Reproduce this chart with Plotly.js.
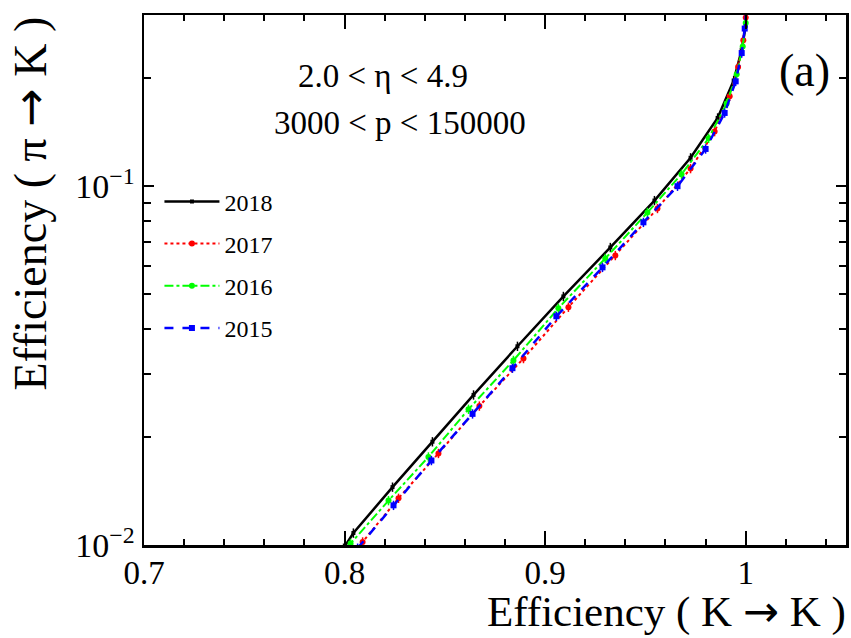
<!DOCTYPE html>
<html>
<head>
<meta charset="utf-8">
<script src="https://cdn.plot.ly/plotly-3.0.1.min.js"></script>
<style>html,body{margin:0;padding:0;background:#fff;}#plot{width:851px;height:638px;}</style>
</head>
<body>
<div id="plot"></div>
<script>
// Data (x = K->K efficiency, y = pi->K efficiency)
const x2018 = [0.7995, 0.8044, 0.8239, 0.8438, 0.8643, 0.8862, 0.9091, 0.9325, 0.9545, 0.9725, 0.9860, 0.9940, 0.9980, 1.0000, 1.0005];
const y2018 = [0.0098, 0.0108, 0.0145, 0.0194, 0.0262, 0.0358, 0.0493, 0.0675, 0.0912, 0.1200, 0.1550, 0.1970, 0.2400, 0.2800, 0.3200];

const x2017 = [0.8075, 0.8090, 0.8269, 0.8468, 0.8672, 0.8892, 0.9116, 0.9350, 0.9560, 0.9725, 0.9845, 0.9920, 0.9962, 0.9988, 1.0000, 1.0005];
const y2017 = [0.0097, 0.0102, 0.0135, 0.0180, 0.0244, 0.0331, 0.0460, 0.0641, 0.0867, 0.1120, 0.1420, 0.1780, 0.2150, 0.2550, 0.2950, 0.3200];

const x2016 = [0.8020, 0.8030, 0.8219, 0.8418, 0.8618, 0.8842, 0.9066, 0.9300, 0.9510, 0.9680, 0.9815, 0.9905, 0.9955, 0.9985, 1.0000, 1.0005];
const y2016 = [0.0098, 0.0101, 0.0133, 0.0176, 0.0239, 0.0327, 0.0457, 0.0629, 0.0845, 0.1080, 0.1360, 0.1700, 0.2050, 0.2450, 0.2850, 0.3200];

const x2015 = [0.8065, 0.8244, 0.8433, 0.8638, 0.8837, 0.9056, 0.9286, 0.9490, 0.9660, 0.9800, 0.9895, 0.9950, 0.9980, 0.9995, 1.0005];
const y2015 = [0.0098, 0.0129, 0.0172, 0.0232, 0.0311, 0.0434, 0.0594, 0.0793, 0.1000, 0.1270, 0.1600, 0.1960, 0.2350, 0.2750, 0.3200];

const legendNames = ["2018", "2017", "2016", "2015"];
const xTickVals = [0.7, 0.8, 0.9, 1.0];
const xTickText = ["0.7", "0.8", "0.9", "1"];
const yTickVals = [0.01, 0.1];
const yTickText = ["10<sup>\u22122</sup>", "10<sup>\u22121</sup>"];
const yMinorVals = [0.02, 0.03, 0.04, 0.05, 0.06, 0.07, 0.08, 0.09, 0.2, 0.3];

const FONT = "Liberation Serif, Times New Roman, serif";
const ARROW = "<span style=\"font-family:'DejaVu Sans'\">\u2192</span>";

function errs(y){ return y.map(v => v*0.03); }

function series(x, y, name, color, dash, width, symbol, msize, group){
  return {
    x: x, y: y, name: name, type: "scatter", mode: "lines+markers",
    line: {color: color, dash: dash, width: width},
    marker: {color: color, symbol: symbol, size: msize},
    error_y: {type: "data", array: errs(y), visible: true, color: color, thickness: 1.5, width: 0},
    legendgroup: group, cliponaxis: true
  };
}

const traces = [
  series(x2018, y2018, legendNames[0], "#000000", "solid", 2.5, "square", 4, "a"),
  series(x2017, y2017, legendNames[1], "#ff0000", "dot", 2, "circle", 6, "b"),
  series(x2016, y2016, legendNames[2], "#00ff00", "dashdot", 2, "circle", 6, "c"),
  series(x2015, y2015, legendNames[3], "#0000ff", "dash", 2.5, "square", 6, "d")
];

const layout = {
  width: 851, height: 638,
  margin: {l: 144, r: 5, t: 15, b: 93},
  paper_bgcolor: "#ffffff", plot_bgcolor: "#ffffff",
  font: {family: FONT, color: "#000000"},
  showlegend: true,
  legend: {
    x: 0.022, y: 0.69, xanchor: "left", yanchor: "top",
    font: {family: FONT, size: 24, color: "#000"},
    bgcolor: "rgba(0,0,0,0)", traceorder: "grouped", tracegroupgap: 8,
    itemwidth: 55
  },
  xaxis: {
    range: [0.7, 1.05], showgrid: false, zeroline: false,
    showline: true, linecolor: "#000", linewidth: 2.5, mirror: "ticks",
    ticks: "inside", ticklen: 14, tickwidth: 2, tickcolor: "#000",
    tickmode: "array", tickvals: xTickVals, ticktext: xTickText,
    tickfont: {family: FONT, size: 33, color: "#000"}, ticklabelstandoff: -3,
    minor: {dtick: 0.02, tick0: 0.7, ticks: "inside", ticklen: 6, tickwidth: 2, tickcolor: "#000", showgrid: false}
  },
  yaxis: {
    type: "log", range: [-2, Math.log10(0.3)], showgrid: false, zeroline: false,
    showline: true, linecolor: "#000", linewidth: 2.5, mirror: "ticks",
    ticks: "inside", ticklen: 10, tickwidth: 2, tickcolor: "#000",
    tickmode: "array", tickvals: yTickVals, ticktext: yTickText,
    tickfont: {family: FONT, size: 34, color: "#000"},
    minor: {tickmode: "array", tickvals: yMinorVals, ticks: "inside", ticklen: 7, tickwidth: 2, tickcolor: "#000", showgrid: false}
  },
  annotations: [
    {text: "Efficiency ( K " + ARROW + " K )", xref: "paper", yref: "paper", x: 1.003, y: -0.125,
     xanchor: "right", yanchor: "middle", showarrow: false, font: {family: FONT, size: 43, color: "#000"}},
    {text: "Efficiency ( \u03c0 " + ARROW + " K )", xref: "paper", yref: "paper", x: -0.163, y: 1.0,
     xanchor: "center", yanchor: "top", textangle: -90, showarrow: false, font: {family: FONT, size: 46, color: "#000"}},
    {text: "2.0 &lt; \u03b7 &lt; 4.9", xref: "paper", yref: "paper", x: 0.34, y: 0.885,
     xanchor: "center", yanchor: "middle", showarrow: false, font: {family: FONT, size: 33, color: "#000"}},
    {text: "3000 &lt; p &lt; 150000", xref: "paper", yref: "paper", x: 0.364, y: 0.797,
     xanchor: "center", yanchor: "middle", showarrow: false, font: {family: FONT, size: 33, color: "#000"}},
    {text: "(a)", xref: "paper", yref: "paper", x: 0.941, y: 0.895,
     xanchor: "center", yanchor: "middle", showarrow: false, font: {family: FONT, size: 46, color: "#000"}}
  ]
};

Plotly.newPlot("plot", traces, layout, {staticPlot: true, displayModeBar: false});
</script>
</body>
</html>
